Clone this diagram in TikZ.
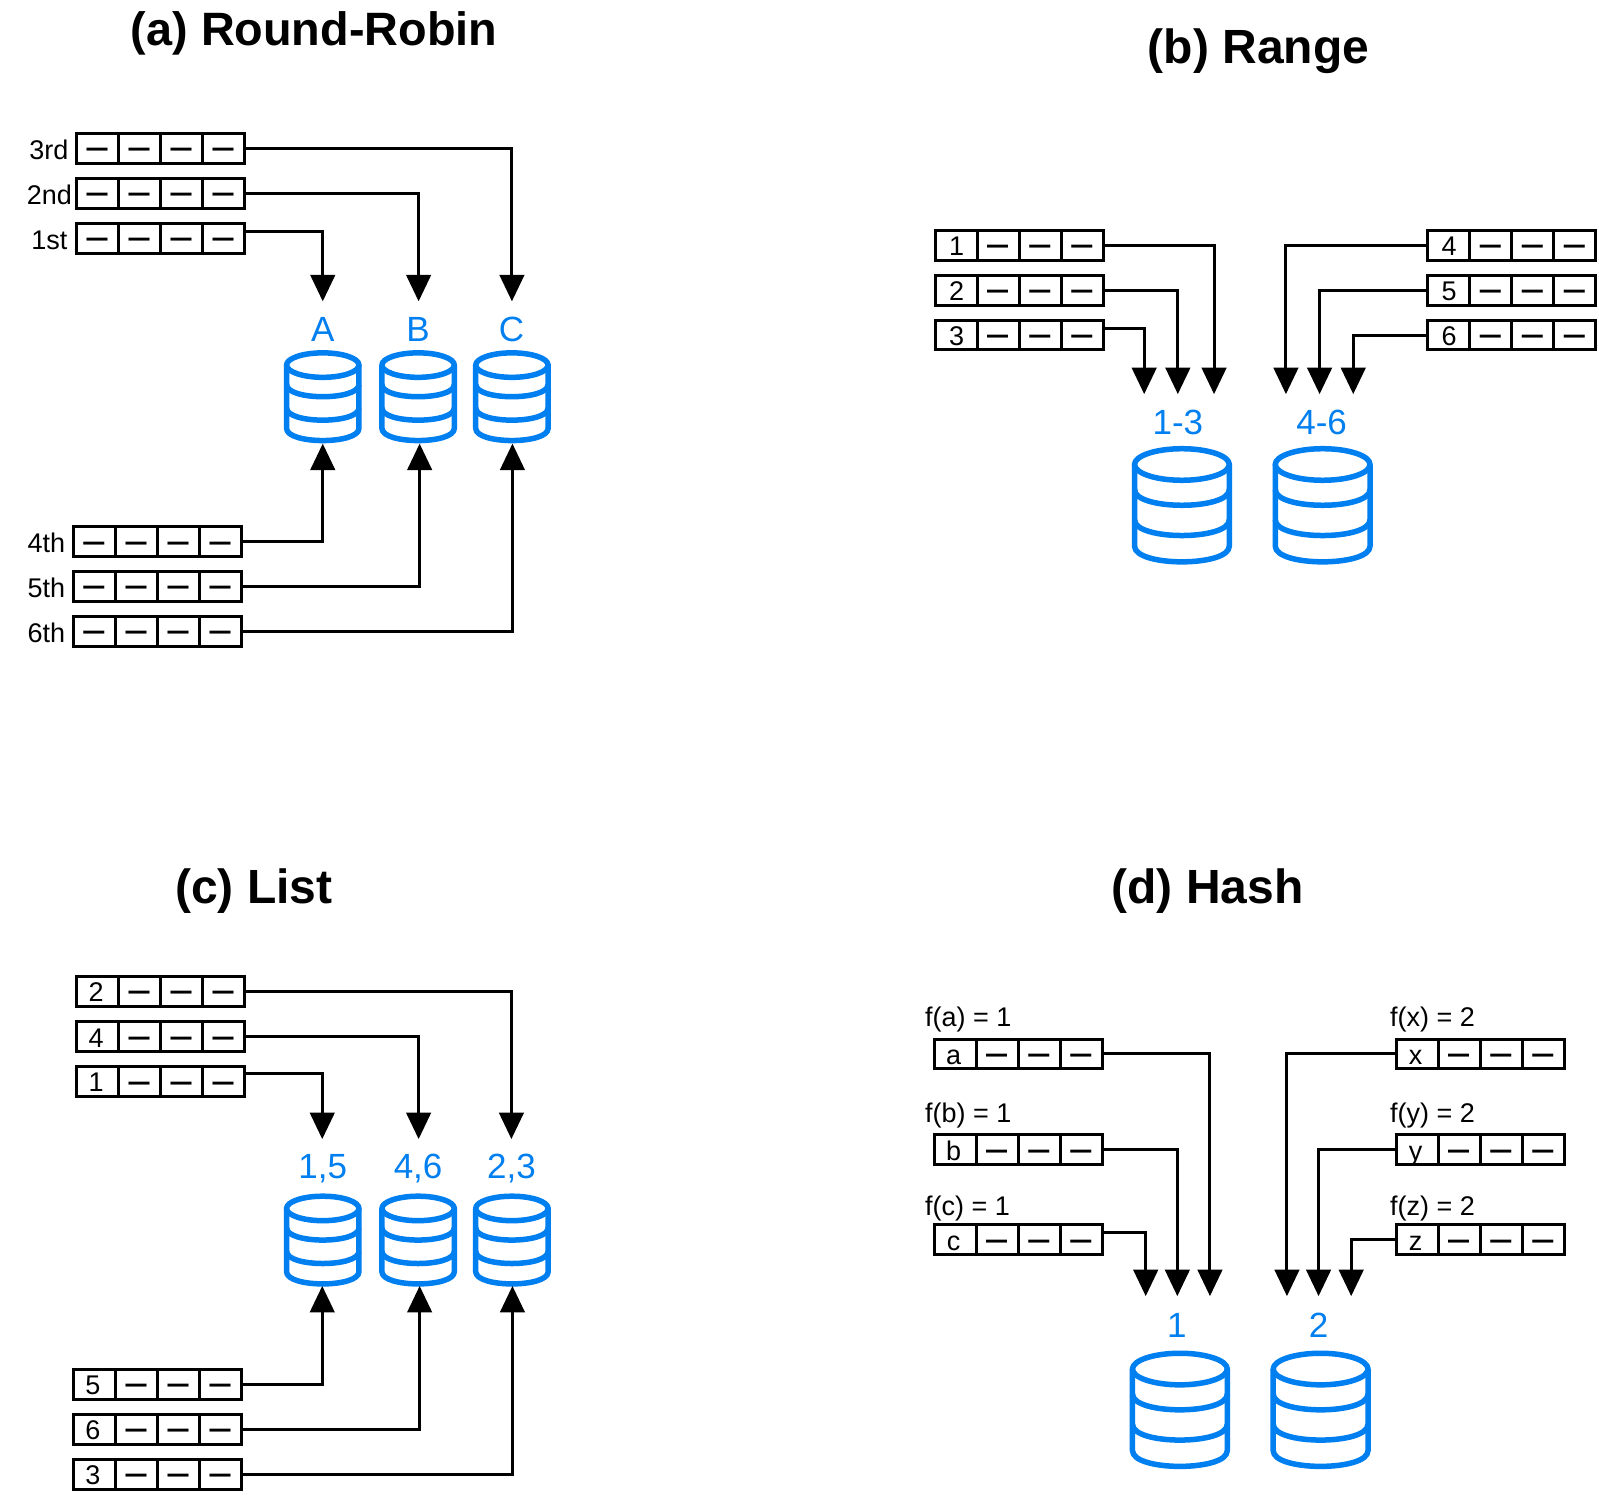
\documentclass[tikz,border=0pt]{standalone}
\usepackage{fontspec}
\setmainfont{Liberation Sans}
\usetikzlibrary{arrows.meta}
\definecolor{dbblue}{HTML}{007FF0}
\newcommand{\fs}[1]{\fontsize{#1pt}{#1pt}\selectfont}
\newcommand{\xoff}{0}
\newcommand{\dd}{\scalebox{1}[1.4]{—}}
\tikzset{
  cellbox/.style={draw=black,line width=3pt,minimum width=42.07pt,minimum height=29.8pt,inner sep=0pt,outer sep=0pt},
  celltext/.style={anchor=base,inner sep=0pt,font=\fs{27}},
  dashtext/.style={anchor=base,inner sep=0pt,font=\bfseries\fs{21}},
  sidetext/.style={anchor=base,inner sep=0pt,font=\fs{27}},
  fxtext/.style={anchor=base west,inner sep=0pt,font=\fs{27}},
  dblabel/.style={anchor=base,inner sep=0pt,text=dbblue,font=\fs{35}},
  titletext/.style={inner sep=0pt,font=\bfseries\fs{48}},
  dbline/.style={draw=dbblue,line width=5.5pt,line join=round},
  conn/.style={draw=black,line width=3pt,-{Triangle[width=24.5pt,length=26.5pt]}},
}
% row of four cells, dashes in cells 2-4
\newcommand{\rowbox}[3]{%
  \node[cellbox] (#1-1) at (#2+20.625,#3) {};
  \node[cellbox] (#1-2) at (#2+61.875,#3) {};
  \node[cellbox] (#1-3) at (#2+103.125,#3) {};
  \node[cellbox] (#1-4) at (#2+144.375,#3) {};
  \node[dashtext] (#1-d2) at ([xshift=-0.5pt,yshift=-9.6pt]#1-2.center) {\dd};
  \node[dashtext] (#1-d3) at ([xshift=-0.5pt,yshift=-9.6pt]#1-3.center) {\dd};
  \node[dashtext] (#1-d4) at ([xshift=-0.5pt,yshift=-9.6pt]#1-4.center) {\dd};
}
\newcommand{\rowd}[3]{\rowbox{#1}{#2}{#3}\node[dashtext] (#1-d1) at ([xshift=-0.5pt,yshift=-9.6pt]#1-1.center) {\dd};}
\newcommand{\rowt}[4]{\rowbox{#1}{#2}{#3}\node[celltext] (#1-t) at ([xshift=\xoff pt,yshift=-10.5pt]#1-1.center) {#4};}
% cylinder icon: name, centre x, top y, scale
\newcommand{\dbicon}[4]{%
  \begin{scope}[shift={(#2,#3)},scale=#4,xscale={#4>1?1.015:1}]
    \coordinate (#1) at (0,43);
    \draw[dbline] (0,12) ellipse [x radius=35.5,y radius=12];
    \draw[dbline] (-35.5,12) -- (-35.5,74) .. controls (-35.5,90) and (35.5,90) .. (35.5,74) -- (35.5,12);
    \draw[dbline] (-35.5,31) .. controls (-35.5,47) and (35.5,47) .. (35.5,31);
    \draw[dbline] (-35.5,54) .. controls (-35.5,70) and (35.5,70) .. (35.5,54);
  \end{scope}
}
\begin{document}
\begin{tikzpicture}[x=1.0198pt,y=-1.0198pt]
\useasboundingbox (0,0) rectangle (1568,1474);
\fill[white] (0,0) rectangle (1568,1474);

% ---------- titles
\node[titletext,font=\bfseries\fs{46.8}] (ta) at (308,32.5) {(a) Round-Robin};
\node[titletext] (tb) at (1234,50.5) {(b) Range};
\node[titletext] (tc) at (249,873.5) {(c) List};
\node[titletext] (td) at (1184,873.5) {(d) Hash};

% ---------- (a)
\rowd{a3}{75}{145.5}
\rowd{a2}{75}{189.5}
\rowd{a1}{75}{233.5}
\rowd{a4}{72}{531}
\rowd{a5}{72}{575}
\rowd{a6}{72}{619}
\node[sidetext] (la3) at (48,156) {3rd};
\node[sidetext] (la2) at (48.5,200.5) {2nd};
\node[sidetext] (la1) at (48.5,244.5) {1st};
\node[sidetext] (la4) at (45.5,542) {4th};
\node[sidetext] (la5) at (45.5,586) {5th};
\node[sidetext] (la6) at (45.5,630) {6th};
\dbicon{dA}{316.5}{346}{1}
\dbicon{dB}{410}{346}{1}
\dbicon{dC}{502}{346}{1}
\node[dblabel] (lA) at (316.5,335) {A};
\node[dblabel] (lB) at (410,335) {B};
\node[dblabel] (lC) at (501.5,335) {C};
\coordinate (aAt) at (316.5,295.5);
\coordinate (aBt) at (410.5,295.5);
\coordinate (aCt) at (502,295.5);
\coordinate (aAb) at (316.5,435);
\coordinate (aBb) at (411.5,435);
\coordinate (aCb) at (502.5,435);
\draw[conn] (a3-4.east) -| (aCt);
\draw[conn] (a2-4.east) -| (aBt);
\draw[conn] ([yshift=7pt]a1-4.east) -| (aAt);
\draw[conn] (a4-4.east) -| (aAb);
\draw[conn] (a5-4.east) -| (aBb);
\draw[conn] (a6-4.east) -| (aCb);

% ---------- (b)
\renewcommand{\xoff}{0.5}
\rowt{b1}{917}{240.5}{1}
\rowt{b2}{917}{284.5}{2}
\rowt{b3}{917}{328.5}{3}
\rowt{b4}{1400}{240.5}{4}
\rowt{b5}{1400}{284.5}{5}
\rowt{b6}{1400}{328.5}{6}
\dbicon{dL}{1159}{440}{1.29}
\dbicon{dR}{1297}{440}{1.29}
\node[dblabel] (lL) at (1155,426) {1-3};
\node[dblabel] (lR) at (1296,426) {4-6};
\coordinate (b1t) at (1190.5,386.5);
\coordinate (b2t) at (1155,386.5);
\coordinate (b3t) at (1122,386.5);
\coordinate (b4t) at (1261,386.5);
\coordinate (b5t) at (1294,386.5);
\coordinate (b6t) at (1327,386.5);
\draw[conn] (b1-4.east) -| (b1t);
\draw[conn] (b2-4.east) -| (b2t);
\draw[conn] ([yshift=7pt]b3-4.east) -| (b3t);
\draw[conn] (b4-1.west) -| (b4t);
\draw[conn] (b5-1.west) -| (b5t);
\draw[conn] (b6-1.west) -| (b6t);

% ---------- (c)
\renewcommand{\xoff}{-1.5}
\rowt{c2}{75}{972}{2}
\rowt{c4}{75}{1016.5}{4}
\rowt{c1}{75}{1060.5}{1}
\rowt{c5}{72}{1357.5}{5}
\rowt{c6}{72}{1401.5}{6}
\rowt{c3}{72}{1445.5}{3}
\dbicon{eA}{316.5}{1173}{1}
\dbicon{eB}{410}{1173}{1}
\dbicon{eC}{502}{1173}{1}
\node[dblabel] (mA) at (316.5,1156) {1,5};
\node[dblabel] (mB) at (410,1156) {4,6};
\node[dblabel] (mC) at (501.5,1156) {2,3};
\coordinate (cAt) at (316,1117);
\coordinate (cBt) at (410.5,1117);
\coordinate (cCt) at (501.5,1117);
\coordinate (cAb) at (316,1261);
\coordinate (cBb) at (411.5,1261);
\coordinate (cCb) at (502.5,1261);
\draw[conn] (c2-4.east) -| (cCt);
\draw[conn] (c4-4.east) -| (cBt);
\draw[conn] ([yshift=7.5pt]c1-4.east) -| (cAt);
\draw[conn] (c5-4.east) -| (cAb);
\draw[conn] (c6-4.east) -| (cBb);
\draw[conn] (c3-4.east) -| (cCb);

% ---------- (d)
\renewcommand{\xoff}{-1.5}
\rowt{da}{916}{1033.5}{a}
\rowt{db}{916}{1127.5}{b}
\rowt{dc}{916}{1215.5}{c}
\rowt{dx}{1369}{1033.5}{x}
\rowt{dy}{1369}{1127.5}{y}
\rowt{dz}{1369}{1215.5}{z}
\node[fxtext] (fa) at (907,1006.5) {f(a) = 1};
\node[fxtext] (fb) at (907,1100.5) {f(b) = 1};
\node[fxtext] (fc) at (907,1191.5) {f(c) = 1};
\node[fxtext] (fx) at (1363,1006.5) {f(x) = 2};
\node[fxtext] (fy) at (1363,1100.5) {f(y) = 2};
\node[fxtext] (fz) at (1363,1191.5) {f(z) = 2};
\dbicon{gL}{1157}{1327}{1.29}
\dbicon{gR}{1295}{1327}{1.29}
\node[dblabel] (nL) at (1154,1312) {1};
\node[dblabel] (nR) at (1293,1312) {2};
\coordinate (dat) at (1186.5,1271);
\coordinate (dbt) at (1154.5,1271);
\coordinate (dct) at (1123.5,1271);
\coordinate (dxt) at (1262,1271);
\coordinate (dyt) at (1293,1271);
\coordinate (dzt) at (1325,1271);
\draw[conn] (da-4.east) -| (dat);
\draw[conn] (db-4.east) -| (dbt);
\draw[conn] ([yshift=7.5pt]dc-4.east) -| (dct);
\draw[conn] (dx-1.west) -| (dxt);
\draw[conn] (dy-1.west) -| (dyt);
\draw[conn] (dz-1.west) -| (dzt);
\end{tikzpicture}
\end{document}
